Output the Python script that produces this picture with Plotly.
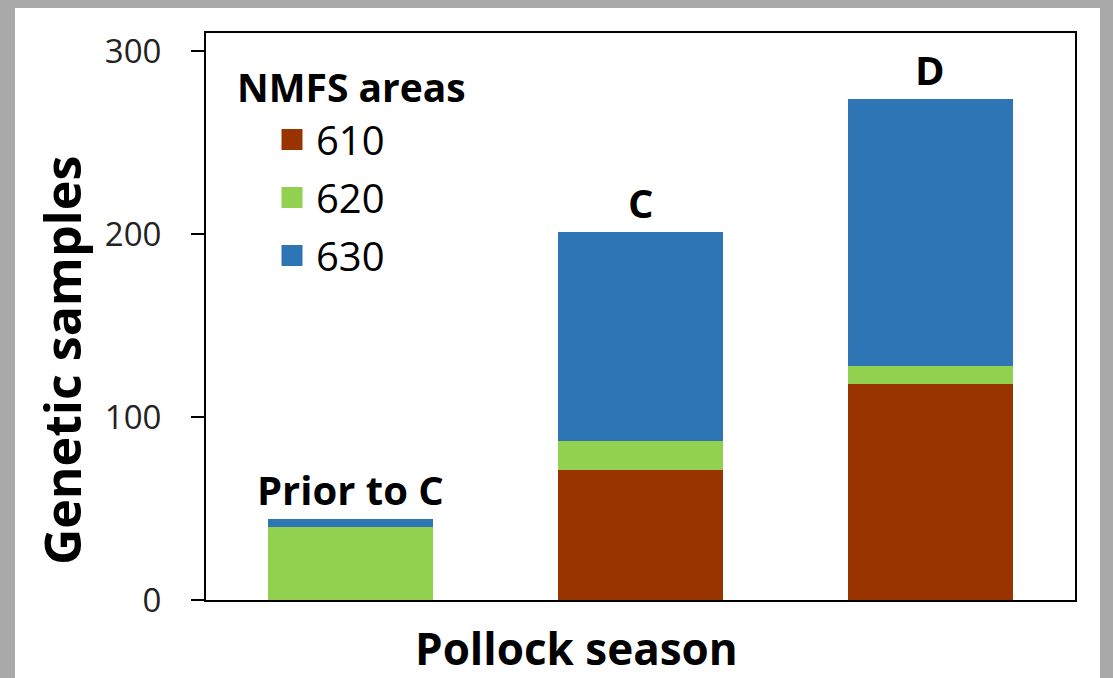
import plotly.graph_objects as go

# ---- data ----
seasons = ["Prior to C", "C", "D"]
area_610 = [0, 71, 118]
area_620 = [40, 16, 10]
area_630 = [4, 114, 146]
area_names = ["610", "620", "630"]
area_colors = ["#993300", "#92D050", "#2E75B6"]
yticks = [0, 100, 200, 300]
legend_title = "NMFS areas"
x_title = "Pollock season"
y_title = "Genetic samples"

FONT = "Open Sans"
W, H = 1113, 678
L, R, T, B = 206, 38, 33, 78
pw, ph = W - L - R, H - T - B


def px(x):
    return (x - L) / pw


def py(y):
    return (H - B - y) / ph


fig = go.Figure()
series = [area_610, area_620, area_630]
for name, vals, col in zip(area_names, series, area_colors):
    fig.add_trace(go.Bar(x=seasons, y=vals, name=name, marker=dict(color=col, line=dict(width=0)),
                         width=0.57, showlegend=False))
    # legend proxy with a large square swatch
    fig.add_trace(go.Scatter(x=[None], y=[None], mode="markers", name=name, legendgroup=name,
                             marker=dict(symbol="square", size=26, color=col,
                                         line=dict(color=col, width=5))))

totals = [a + b + c for a, b, c in zip(area_610, area_620, area_630)]
for s, t in zip(seasons, totals):
    fig.add_annotation(x=s, y=t, text="<b>%s</b>" % s, showarrow=False, yanchor="bottom",
                       yshift=0, font=dict(family=FONT, size=40, color="black"))

fig.add_annotation(xref="paper", yref="paper", x=px(235), y=py(86), xanchor="left", yanchor="middle",
                   text="<b>%s</b>" % legend_title, showarrow=False,
                   font=dict(family=FONT, size=39, color="black"))

# axis titles (placed like the original, off-centre)
fig.add_annotation(xref="paper", yref="paper", x=px(576), y=py(648), xanchor="center", yanchor="middle",
                   text="<b>%s</b>" % x_title, showarrow=False,
                   font=dict(family=FONT, size=44, color="black"))
fig.add_annotation(xref="paper", yref="paper", x=px(62), y=py(361), xanchor="center", yanchor="middle",
                   text="<b>%s</b>" % y_title, showarrow=False, textangle=-90,
                   font=dict(family=FONT, size=50, color="black"))

# screenshot frame strips
shapes = [
    dict(type="rect", xref="paper", yref="paper", x0=px(0), x1=px(15), y0=py(678), y1=py(8),
         fillcolor="#a9a9a9", line=dict(width=0), layer="below"),
    dict(type="rect", xref="paper", yref="paper", x0=px(0), x1=px(1113), y0=py(8), y1=py(0),
         fillcolor="#a9a9a9", line=dict(width=0), layer="below"),
    dict(type="rect", xref="paper", yref="paper", x0=px(1100), x1=px(1113), y0=py(678), y1=py(0),
         fillcolor="#a9a9a9", line=dict(width=0), layer="below"),
]

fig.update_layout(
    width=W, height=H,
    margin=dict(l=L, r=R, t=T, b=B, autoexpand=False),
    paper_bgcolor="white", plot_bgcolor="white",
    barmode="stack",
    shapes=shapes,
    font=dict(family=FONT, color="black"),
    legend=dict(
        font=dict(family=FONT, size=40, color="black"),
        x=px(268), y=py(107), xanchor="left", yanchor="top",
        bgcolor="rgba(0,0,0,0)", itemwidth=38, tracegroupgap=3, traceorder="grouped",
    ),
    xaxis=dict(
        type="category", range=[-0.5, 2.5], showticklabels=False, ticks="",
        showline=True, linecolor="black", linewidth=2, mirror=True, showgrid=False,
    ),
    yaxis=dict(
        range=[0, 309.8], tickvals=yticks, ticks="outside", ticklen=13, tickwidth=2, tickcolor="black",
        tickfont=dict(family=FONT, size=33, color="#222222"), ticklabelstandoff=23,
        showline=True, linecolor="black", linewidth=2, mirror=True, showgrid=False, zeroline=False,
    ),
)

fig.write_html("out.html", config=dict(displayModeBar=False),
               post_script="document.body.style.margin='0px';")
